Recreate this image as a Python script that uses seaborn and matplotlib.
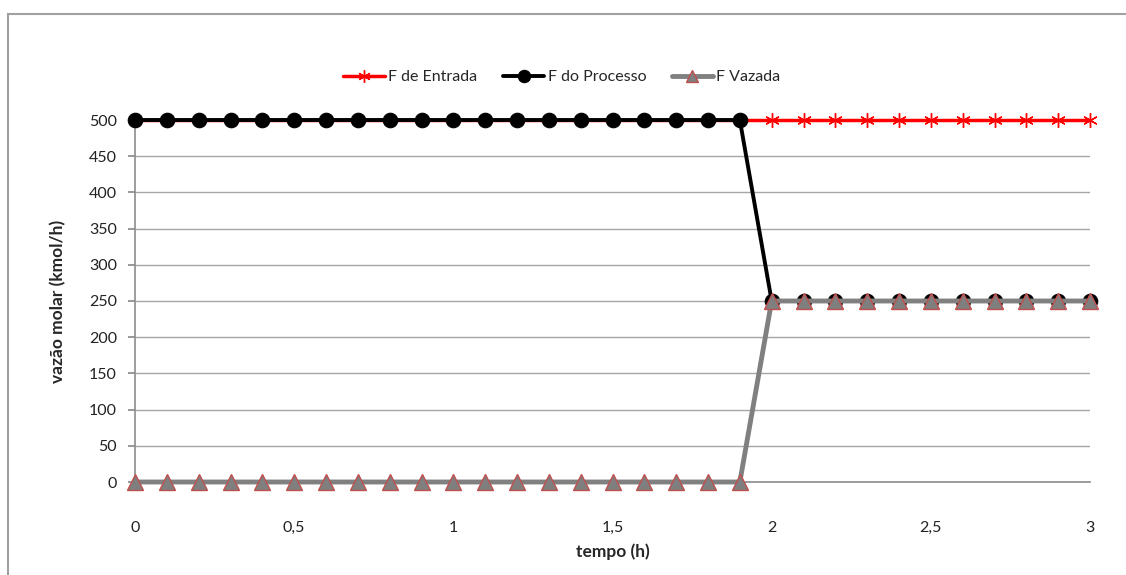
import matplotlib
matplotlib.use("Agg")
import matplotlib.pyplot as plt
import seaborn as sns
import numpy as np
import pandas as pd
from matplotlib.patches import Rectangle

tempo = [0.0, 0.1, 0.2, 0.3, 0.4, 0.5, 0.6, 0.7, 0.8, 0.9, 1.0,
         1.1, 1.2, 1.3, 1.4, 1.5, 1.6, 1.7, 1.8, 1.9, 2.0,
         2.1, 2.2, 2.3, 2.4, 2.5, 2.6, 2.7, 2.8, 2.9, 3.0]
f_entrada = [500] * 31
f_processo = [500] * 20 + [250] * 11
f_vazada = [0] * 20 + [250] * 11

x_ticks = [0, 0.5, 1, 1.5, 2, 2.5, 3]
x_tick_labels = ["0", "0,5", "1", "1,5", "2", "2,5", "3"]
y_ticks = list(range(0, 501, 50))

sns.set_theme(style="white")
plt.rcParams['font.family'] = ['Lato', 'DejaVu Sans']

fig = plt.figure(figsize=(11.26, 5.75), dpi=100)
fig.patches.append(Rectangle((8/1126, -0.1), 1.2, 1.1 - 14/575,
                             transform=fig.transFigure, fill=False,
                             edgecolor="#A0A0A0", linewidth=1.5, zorder=0))
ax = fig.add_axes([135/1126, 1 - 482/575, (1090 - 135)/1126, (482 - 120)/575])

df = pd.DataFrame({"tempo": tempo, "ent": f_entrada, "proc": f_processo, "vaz": f_vazada})

sns.lineplot(data=df, x="tempo", y="ent", ax=ax, color="#FF0000", lw=2.5,
             marker=(6, 2, 0), markersize=10.5, markeredgecolor="#FF0000",
             markeredgewidth=1.0, label="F de Entrada", zorder=3)
sns.lineplot(data=df, x="tempo", y="proc", ax=ax, color="#000000", lw=2.8,
             marker="o", markersize=10.5, markerfacecolor="#000000",
             markeredgecolor="#000000", label="F do Processo", zorder=4)
sns.lineplot(data=df, x="tempo", y="vaz", ax=ax, color="#808080", lw=3.5,
             marker="^", markersize=11, markerfacecolor="#7F7F7F",
             markeredgecolor="#C0504D", markeredgewidth=1.0,
             label="F Vazada", zorder=5)

ax.set_xlim(0, 3)
ax.set_ylim(0, 500)
ax.set_xticks(x_ticks)
ax.set_xticklabels(x_tick_labels)
ax.set_yticks(y_ticks)
ax.yaxis.grid(True, color="#A6A6A6", lw=1)
ax.xaxis.grid(False)
for s in ["top", "right"]:
    ax.spines[s].set_visible(False)
for s in ["left", "bottom"]:
    ax.spines[s].set_color("#8C8C8C")
    ax.spines[s].set_linewidth(1.2)
ax.spines["left"].set_bounds(0, 500)
ax.tick_params(axis="y", which="both", left=True, length=5, color="#8C8C8C",
               labelsize=11.5, pad=8, labelcolor="#222222")
ax.tick_params(axis="x", bottom=False, labelsize=11.5, pad=22, labelcolor="#222222")
for l in ax.lines:
    l.set_clip_on(False)

ax.set_xlabel("tempo (h)", fontsize=12.5, fontweight="bold", labelpad=6)
ax.set_ylabel("vazão molar (kmol/h)", fontsize=12.5, fontweight="bold", labelpad=16)

ax.legend_.remove()
h, lab = ax.get_legend_handles_labels()
fig.legend(h, lab, loc="center", bbox_to_anchor=(562/1126, 1 - 77/575), ncol=3,
           frameon=False, fontsize=11.5, handlelength=2.6, columnspacing=1.6,
           handletextpad=0.2, markerscale=0.85)

fig.savefig("out.png", dpi=100)
